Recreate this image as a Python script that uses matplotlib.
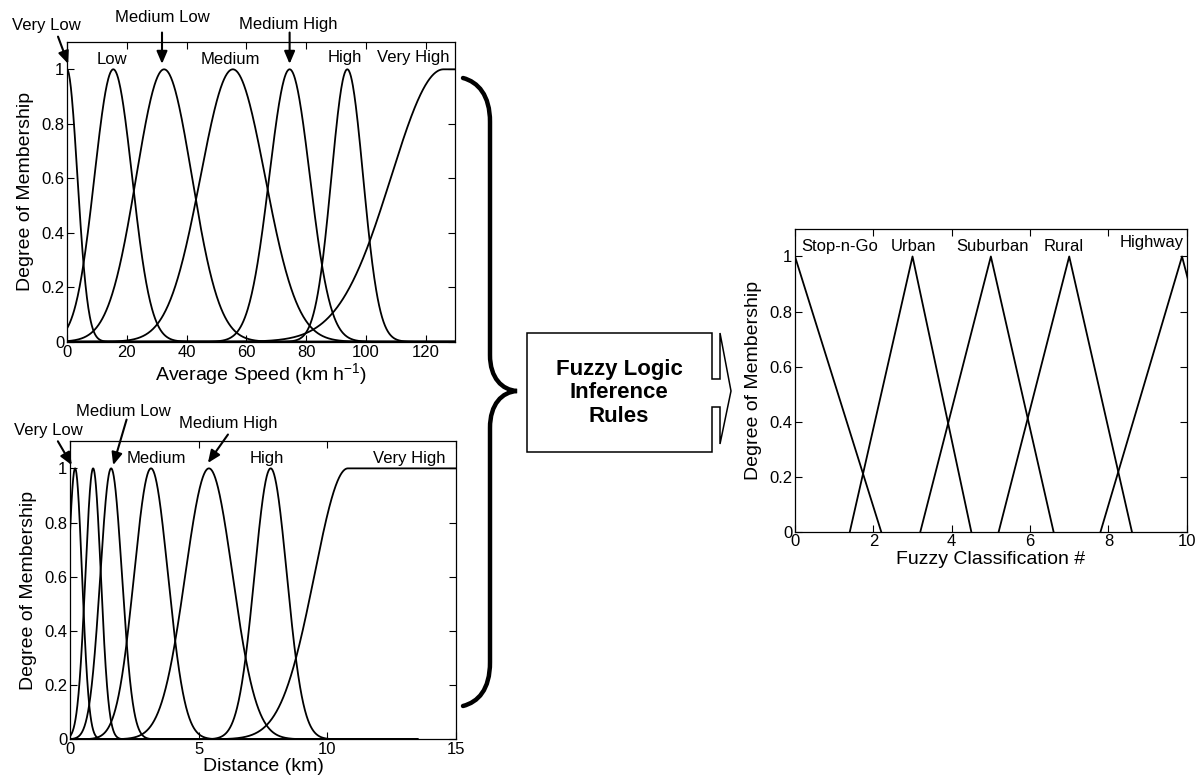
import matplotlib
matplotlib.use("Agg")
import matplotlib.pyplot as plt
import numpy as np
from matplotlib.path import Path
from matplotlib.patches import PathPatch, Polygon

plt.rcParams["font.family"] = ["Liberation Sans", "DejaVu Sans"]
plt.rcParams["mathtext.default"] = "regular"

# --- average speed membership functions (gaussian: centre, sigma; last is a shoulder) ---
speed_labels = ["Very Low", "Low", "Medium Low", "Medium", "Medium High", "High", "Very High"]
speed_centers = [0.0, 15.5, 32.5, 55.5, 74.5, 93.8, 126.0]
speed_sigmas = [3.5, 6.3, 9.3, 10.8, 6.8, 5.3, 17.5]
speed_ticks = [0, 20, 40, 60, 80, 100, 120]

# --- distance membership functions (last one is a left-sided gaussian shoulder) ---
dist_labels = ["Very Low", "Low", "Medium Low", "Medium", "Medium High", "High", "Very High"]
dist_centers = [0.2, 0.9, 1.6, 3.15, 5.4, 7.8, 10.8]
dist_sigmas = [0.27, 0.3, 0.42, 0.66, 0.92, 0.63, 1.3]
dist_ticks = [0, 5, 10, 15]

# --- output classes (triangles: left foot, peak, right foot) ---
class_labels = ["Stop-n-Go", "Urban", "Suburban", "Rural", "Highway"]
class_left = [-2.2, 1.4, 3.2, 5.2, 7.8]
class_peak = [0.0, 3.0, 5.0, 7.0, 9.88]
class_right = [2.2, 4.5, 6.6, 8.6, 11.7]
class_ticks = [0, 2, 4, 6, 8, 10]

y_ticks = [0, 0.2, 0.4, 0.6, 0.8, 1.0]
y_ticklabels = ["0", "0.2", "0.4", "0.6", "0.8", "1"]

LW = 1.3
TICK_FS = 12
LABEL_FS = 14
NAME_FS = 12


def gauss(x, c, s):
    return np.exp(-((x - c) ** 2) / (2 * s ** 2))


def shoulder(x, c, s):
    # gaussian rising edge, held at 1 past the centre
    return np.where(x < c, gauss(x, c, s), 1.0)


def style(ax, xlim, xticks, xlabel):
    ax.set_xlim(*xlim)
    ax.set_ylim(0, 1.1)
    ax.set_xticks(xticks)
    ax.set_xticklabels([str(t) for t in xticks])
    ax.set_yticks(y_ticks)
    ax.set_yticklabels(y_ticklabels)
    ax.tick_params(direction="in", top=True, right=True, length=5, width=0.8,
                   labelsize=TICK_FS, pad=2)
    for sp in ax.spines.values():
        sp.set_linewidth(0.9)
    ax.set_xlabel(xlabel, fontsize=LABEL_FS, labelpad=1)
    ax.set_ylabel("Degree of Membership", fontsize=LABEL_FS, labelpad=5)


def arrow(ax, tail, tip):
    ax.annotate("", xy=tip, xytext=tail, annotation_clip=False,
                arrowprops=dict(arrowstyle="-|>,head_length=0.75,head_width=0.32",
                                color="black", lw=1.5, shrinkA=0, shrinkB=0))


fig = plt.figure(figsize=(11.98, 7.82), dpi=100)

# ---------------- average speed ----------------
ax1 = fig.add_axes([0.0559, 0.5630, 0.3243, 0.3832])
xs = np.linspace(0, 130, 800)
for c, s in zip(speed_centers[:-1], speed_sigmas[:-1]):
    ax1.plot(xs, gauss(xs, c, s), color="black", lw=LW)
ax1.plot(xs, shoulder(xs, speed_centers[-1], speed_sigmas[-1]), color="black", lw=LW)
style(ax1, (0, 130), speed_ticks, "Average Speed (km h$^{-1}$)")

ax1.text(15.0, 1.035, "Low", ha="center", va="center", fontsize=NAME_FS)
ax1.text(54.8, 1.037, "Medium", ha="center", va="center", fontsize=NAME_FS)
ax1.text(92.9, 1.043, "High", ha="center", va="center", fontsize=NAME_FS)
ax1.text(115.8, 1.043, "Very High", ha="center", va="center", fontsize=NAME_FS)
ax1.text(-7.0, 1.16, "Very Low", ha="center", va="center", fontsize=NAME_FS, clip_on=False)
ax1.text(31.8, 1.19, "Medium Low", ha="center", va="center", fontsize=NAME_FS, clip_on=False)
ax1.text(73.9, 1.166, "Medium High", ha="center", va="center", fontsize=NAME_FS, clip_on=False)
arrow(ax1, (-3.0, 1.12), (0.4, 1.02))
arrow(ax1, (31.8, 1.135), (31.8, 1.02))
arrow(ax1, (74.5, 1.135), (74.5, 1.02))

# ---------------- distance ----------------
ax2 = fig.add_axes([0.0584, 0.0546, 0.3222, 0.3811])
xd = np.linspace(0, 13.5, 1500)
for c, s in zip(dist_centers[:-1], dist_sigmas[:-1]):
    ax2.plot(xd, gauss(xd, c, s), color="black", lw=LW)
xv = np.linspace(0, 15, 1500)
ax2.plot(xv, shoulder(xv, dist_centers[-1], dist_sigmas[-1]), color="black", lw=LW)
style(ax2, (0, 15), dist_ticks, "Distance (km)")

ax2.text(3.34, 1.038, "Medium", ha="center", va="center", fontsize=NAME_FS)
ax2.text(7.64, 1.038, "High", ha="center", va="center", fontsize=NAME_FS)
ax2.text(13.2, 1.038, "Very High", ha="center", va="center", fontsize=NAME_FS)
ax2.text(-0.85, 1.14, "Very Low", ha="center", va="center", fontsize=NAME_FS, clip_on=False)
ax2.text(2.06, 1.21, "Medium Low", ha="center", va="center", fontsize=NAME_FS, clip_on=False)
ax2.text(6.16, 1.167, "Medium High", ha="center", va="center", fontsize=NAME_FS, clip_on=False)
arrow(ax2, (-0.47, 1.10), (0.07, 1.012))
arrow(ax2, (2.2, 1.18), (1.68, 1.012))
arrow(ax2, (6.14, 1.125), (5.36, 1.02))

# ---------------- fuzzy classification ----------------
ax3 = fig.add_axes([0.6636, 0.3201, 0.3270, 0.3871])
for a, b, c in zip(class_left, class_peak, class_right):
    ax3.plot([a, b, c], [0, 1, 0], color="black", lw=LW)
style(ax3, (0, 10), class_ticks, "Fuzzy Classification #")
name_x = [1.15, 3.03, 5.05, 6.85, 9.1]
name_y = [1.036, 1.036, 1.036, 1.036, 1.05]
for lab, x, y in zip(class_labels, name_x, name_y):
    ax3.text(x, y, lab, ha="center", va="center", fontsize=NAME_FS)

# ---------------- brace + inference box (pixel coordinates) ----------------
ov = fig.add_axes([0, 0, 1, 1])
ov.set_xlim(0, 1198)
ov.set_ylim(782, 0)
ov.axis("off")

brace = Path(
    [(463, 78), (478, 82), (490, 95), (490, 122),
     (490, 355),
     (490, 378), (502, 390), (517, 391),
     (502, 392), (490, 404), (490, 428),
     (490, 662),
     (490, 690), (478, 702), (463, 706)],
    [Path.MOVETO, Path.CURVE4, Path.CURVE4, Path.CURVE4,
     Path.LINETO,
     Path.CURVE4, Path.CURVE4, Path.CURVE4,
     Path.CURVE4, Path.CURVE4, Path.CURVE4,
     Path.LINETO,
     Path.CURVE4, Path.CURVE4, Path.CURVE4],
)
ov.add_patch(PathPatch(brace, fill=False, lw=3.2, color="black", capstyle="round"))

box = [(527, 333), (712, 333), (712, 379), (720, 379), (720, 333), (731, 391),
       (720, 444), (720, 407), (712, 407), (712, 452), (527, 452)]
ov.add_patch(Polygon(box, closed=True, fill=False, lw=1.1, edgecolor="black"))
ov.text(619, 393, "Fuzzy Logic\nInference\nRules", ha="center", va="center",
        fontsize=16, fontweight="bold", linespacing=1.15)

fig.savefig("out.png", dpi=100)
